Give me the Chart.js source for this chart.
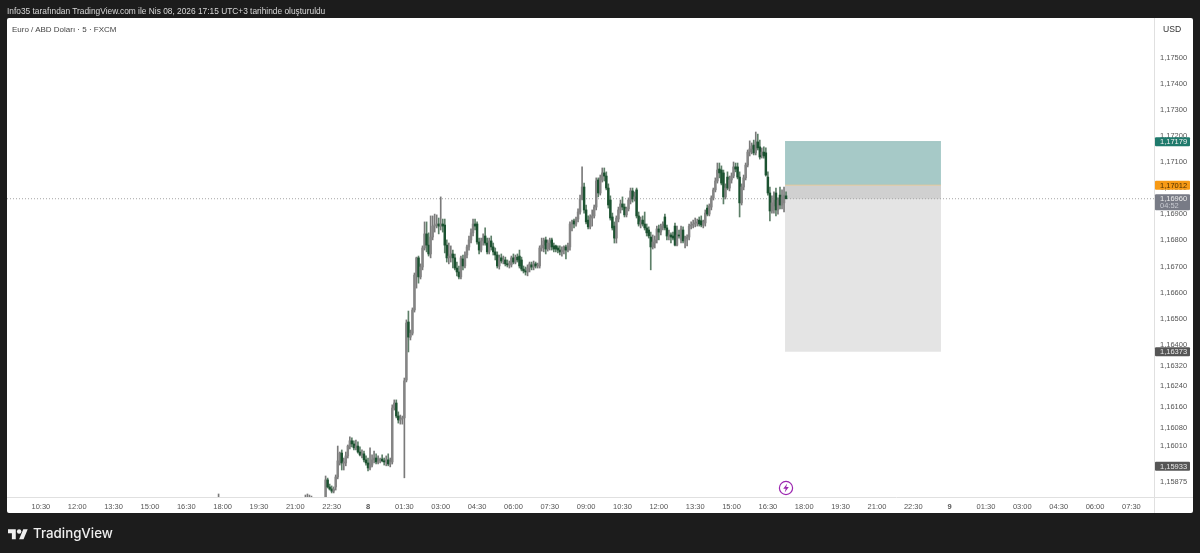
<!DOCTYPE html>
<html lang="tr"><head><meta charset="utf-8">
<style>
html,body{margin:0;padding:0;background:#1c1c1c;width:1200px;height:553px;overflow:hidden}
#panel{position:absolute;left:7px;top:18px;width:1186px;height:495px;background:#fff;border-radius:2px}
canvas{position:absolute;left:0;top:0}
.t{position:absolute;white-space:nowrap;font-family:"Liberation Sans",sans-serif}
#hdr{left:7px;top:6px;font-size:8.35px;line-height:11px;color:#d8d8d8}
#ttl{left:12px;top:24px;font-size:8px;line-height:11px;color:#444}
#usd{left:1163px;top:24px;font-size:8.6px;line-height:11px;color:#333}
#brand{left:33px;top:522px;font-family:"Inter","Lato",sans-serif;font-size:13.3px;line-height:22px;font-weight:500;color:#efefef}
#logo{position:absolute;left:8px;top:527px}
#bolt{position:absolute;left:778px;top:480px}
</style></head><body>
<div id="panel"></div>
<canvas id="c" width="1200" height="553"></canvas>
<div class="t" id="hdr">Info35 tarafından TradingView.com ile Nis 08, 2026 17:15 UTC+3 tarihinde oluşturuldu</div>
<div class="t" id="ttl">Euro / ABD Doları · 5 · FXCM</div>
<div class="t" id="usd">USD</div>
<svg id="logo" width="20" height="14" viewBox="0 0 36 25"><path fill="#efefef" d="M14 22H7V11H0V4h14v18zM28 22h-8l7.5-18h8L28 22z"/><circle fill="#efefef" cx="20" cy="8" r="4"/></svg>
<div class="t" id="brand">TradingView</div>
<svg id="bolt" width="16" height="16" viewBox="0 0 16 16"><circle cx="8" cy="8" r="6.6" fill="#fff" stroke="#9c27b0" stroke-width="1.2"/><path fill="#9c27b0" d="M9.2 3.6 5.2 8.7h2.5l-1 3.7 4.1-5.3H8.2z"/></svg>
<script src="https://cdn.jsdelivr.net/npm/chart.js@4/dist/chart.umd.min.js"></script>
<script>
const firstSlot = -21;
const open = [
1.15785,1.15881,1.15854,1.15846,1.15838,1.15854,1.15892,1.15946,1.15984,1.15946,
1.15946,1.15973,1.16008,1.16031,1.16019,1.16004,1.16011,1.15988,1.15977,1.15981,
1.15958,1.15946,1.15927,1.15938,1.15958,1.15965,1.15950,1.15954,1.15961,1.15954,
1.15950,1.15958,1.15942,1.15950,1.16157,1.16176,1.16126,1.16111,1.16115,1.16119,
1.16264,1.16487,1.16429,1.16444,1.16533,1.16667,1.16733,1.16660,1.16698,1.16771,
1.16825,1.16782,1.16748,1.16813,1.16855,1.16859,1.16863,1.16855,1.16863,1.16859,
1.16782,1.16733,1.16740,1.16748,1.16733,1.16694,1.16679,1.16660,1.16729,1.16702,
1.16744,1.16775,1.16802,1.16829,1.16863,1.16863,1.16794,1.16763,1.16798,1.16817,
1.16790,1.16756,1.16798,1.16775,1.16756,1.16744,1.16702,1.16733,1.16721,1.16725,
1.16710,1.16706,1.16706,1.16733,1.16717,1.16736,1.16740,1.16725,1.16690,1.16683,
1.16679,1.16694,1.16706,1.16698,1.16710,1.16702,1.16702,1.16771,1.16782,1.16802,
1.16767,1.16790,1.16802,1.16779,1.16779,1.16771,1.16763,1.16756,1.16763,1.16775,
1.16763,1.16775,1.16863,1.16875,1.16863,1.16882,1.16909,1.16959,1.17005,1.16917,
1.16878,1.16852,1.16886,1.16894,1.16928,1.17032,1.16982,1.17032,1.17059,1.17047,
1.17001,1.16955,1.16890,1.16855,1.16809,1.16882,1.16917,1.16940,1.16928,1.16898,
1.16921,1.16951,1.16990,1.16959,1.16994,1.16894,1.16863,1.16878,1.16863,1.16848,
1.16840,1.16813,1.16775,1.16790,1.16802,1.16844,1.16832,1.16855,1.16890,1.16848,
1.16817,1.16821,1.16817,1.16855,1.16782,1.16821,1.16802,1.16840,1.16798,1.16806,
1.16813,1.16855,1.16859,1.16863,1.16867,1.16878,1.16875,1.16859,1.16867,1.16924,
1.16901,1.16928,1.16963,1.16994,1.17028,1.17074,1.17070,1.17059,1.16967,1.17043,
1.17001,1.17032,1.17047,1.17082,1.17082,1.17043,1.16944,1.17005,1.17040,1.17089,
1.17139,1.17151,1.17166,1.17136,1.17178,1.17159,1.17128,1.17139,1.17136,1.17043,
1.16982,1.16913,1.16932,1.16982,1.16917,1.16974,1.16936,1.16944,1.16971
];
const high = [
1.15896,1.15888,1.15865,1.15858,1.15854,1.15900,1.16011,1.15988,1.15996,1.15965,
1.15988,1.16015,1.16046,1.16042,1.16031,1.16034,1.16027,1.16008,1.15996,1.15992,
1.15973,1.15965,1.16004,1.15977,1.15992,1.15981,1.15973,1.15965,1.15977,1.15965,
1.15973,1.15981,1.15965,1.16169,1.16188,1.16188,1.16142,1.16130,1.16126,1.16272,
1.16495,1.16529,1.16456,1.16541,1.16675,1.16736,1.16740,1.16710,1.16779,1.16871,
1.16871,1.16829,1.16894,1.16894,1.16901,1.16898,1.16886,1.16967,1.16882,1.16882,
1.16802,1.16790,1.16779,1.16763,1.16748,1.16717,1.16702,1.16740,1.16744,1.16756,
1.16782,1.16817,1.16844,1.16882,1.16882,1.16871,1.16809,1.16809,1.16825,1.16848,
1.16809,1.16809,1.16817,1.16790,1.16771,1.16756,1.16744,1.16748,1.16740,1.16736,
1.16725,1.16721,1.16740,1.16748,1.16744,1.16748,1.16763,1.16736,1.16702,1.16698,
1.16706,1.16717,1.16717,1.16721,1.16717,1.16713,1.16779,1.16809,1.16809,1.16813,
1.16802,1.16809,1.16809,1.16790,1.16782,1.16779,1.16779,1.16775,1.16779,1.16782,
1.16790,1.16871,1.16878,1.16882,1.16890,1.16921,1.16974,1.17082,1.17020,1.16936,
1.16894,1.16898,1.16917,1.16936,1.17040,1.17040,1.17051,1.17078,1.17078,1.17063,
1.17017,1.16971,1.16905,1.16871,1.16894,1.16928,1.16955,1.16967,1.16940,1.16928,
1.16963,1.17001,1.17001,1.16986,1.17001,1.16909,1.16890,1.16894,1.16909,1.16863,
1.16852,1.16832,1.16821,1.16817,1.16855,1.16859,1.16863,1.16871,1.16901,1.16859,
1.16840,1.16829,1.16832,1.16867,1.16855,1.16840,1.16855,1.16852,1.16817,1.16821,
1.16863,1.16871,1.16878,1.16886,1.16882,1.16890,1.16894,1.16878,1.16917,1.16936,
1.16940,1.16971,1.17001,1.17040,1.17097,1.17097,1.17086,1.17070,1.17017,1.17063,
1.17047,1.17059,1.17101,1.17097,1.17097,1.17063,1.17017,1.17051,1.17097,1.17147,
1.17182,1.17174,1.17185,1.17216,1.17208,1.17185,1.17155,1.17159,1.17155,1.17063,
1.17005,1.16971,1.16986,1.17001,1.16963,1.17005,1.16994,1.17005,1.16986
];
const low = [
1.15785,1.15850,1.15842,1.15831,1.15831,1.15842,1.15885,1.15938,1.15919,1.15919,
1.15935,1.15965,1.16000,1.16008,1.15996,1.15996,1.15984,1.15973,1.15965,1.15950,
1.15938,1.15915,1.15919,1.15931,1.15946,1.15942,1.15942,1.15946,1.15950,1.15938,
1.15935,1.15935,1.15931,1.15942,1.16149,1.16119,1.16099,1.16095,1.16095,1.15889,
1.16257,1.16372,1.16418,1.16437,1.16525,1.16617,1.16636,1.16652,1.16687,1.16763,
1.16756,1.16740,1.16733,1.16802,1.16832,1.16848,1.16825,1.16840,1.16832,1.16752,
1.16717,1.16710,1.16717,1.16694,1.16687,1.16664,1.16652,1.16652,1.16687,1.16694,
1.16733,1.16763,1.16790,1.16817,1.16840,1.16786,1.16748,1.16756,1.16782,1.16782,
1.16748,1.16748,1.16763,1.16744,1.16725,1.16694,1.16690,1.16713,1.16710,1.16702,
1.16698,1.16694,1.16698,1.16710,1.16710,1.16717,1.16694,1.16683,1.16675,1.16667,
1.16664,1.16679,1.16687,1.16687,1.16694,1.16694,1.16694,1.16759,1.16756,1.16748,
1.16759,1.16763,1.16763,1.16756,1.16756,1.16752,1.16744,1.16740,1.16748,1.16729,
1.16756,1.16763,1.16836,1.16848,1.16855,1.16871,1.16901,1.16955,1.16905,1.16863,
1.16844,1.16844,1.16855,1.16886,1.16917,1.16967,1.16974,1.17024,1.17028,1.16994,
1.16924,1.16878,1.16840,1.16790,1.16790,1.16871,1.16905,1.16917,1.16890,1.16890,
1.16913,1.16940,1.16947,1.16951,1.16886,1.16855,1.16848,1.16855,1.16840,1.16817,
1.16809,1.16687,1.16767,1.16771,1.16790,1.16802,1.16821,1.16840,1.16840,1.16802,
1.16802,1.16790,1.16802,1.16779,1.16779,1.16809,1.16790,1.16790,1.16771,1.16779,
1.16802,1.16844,1.16848,1.16852,1.16855,1.16855,1.16852,1.16848,1.16855,1.16894,
1.16894,1.16917,1.16955,1.16986,1.17020,1.17040,1.17013,1.16940,1.16959,1.16994,
1.16990,1.17020,1.17040,1.17063,1.17036,1.16890,1.16936,1.16994,1.17032,1.17082,
1.17124,1.17132,1.17128,1.17128,1.17147,1.17112,1.17116,1.17116,1.17047,1.16974,
1.16875,1.16905,1.16905,1.16894,1.16901,1.16921,1.16921,1.16909,1.16959
];
const close = [
1.15881,1.15854,1.15846,1.15838,1.15846,1.15892,1.15954,1.15984,1.15946,1.15950,
1.15973,1.16011,1.16031,1.16019,1.16004,1.16011,1.15988,1.15977,1.15981,1.15958,
1.15946,1.15927,1.15938,1.15958,1.15965,1.15950,1.15954,1.15961,1.15954,1.15950,
1.15958,1.15942,1.15950,1.16157,1.16176,1.16126,1.16111,1.16115,1.16119,1.16261,
1.16483,1.16429,1.16444,1.16533,1.16667,1.16733,1.16660,1.16698,1.16771,1.16825,
1.16782,1.16748,1.16813,1.16855,1.16859,1.16863,1.16855,1.16863,1.16855,1.16782,
1.16733,1.16740,1.16748,1.16733,1.16694,1.16679,1.16660,1.16733,1.16702,1.16744,
1.16775,1.16802,1.16829,1.16863,1.16855,1.16794,1.16763,1.16798,1.16809,1.16790,
1.16756,1.16798,1.16775,1.16756,1.16744,1.16702,1.16733,1.16721,1.16725,1.16710,
1.16706,1.16713,1.16733,1.16717,1.16736,1.16725,1.16702,1.16690,1.16683,1.16679,
1.16694,1.16710,1.16698,1.16710,1.16702,1.16706,1.16771,1.16782,1.16798,1.16767,
1.16790,1.16798,1.16775,1.16767,1.16767,1.16763,1.16756,1.16763,1.16775,1.16763,
1.16779,1.16863,1.16867,1.16863,1.16882,1.16909,1.16959,1.17005,1.16917,1.16871,
1.16852,1.16890,1.16894,1.16928,1.17028,1.16982,1.17040,1.17059,1.17047,1.17001,
1.16936,1.16886,1.16848,1.16809,1.16886,1.16917,1.16940,1.16928,1.16898,1.16921,
1.16955,1.16990,1.16959,1.16967,1.16894,1.16863,1.16871,1.16863,1.16848,1.16829,
1.16817,1.16775,1.16794,1.16802,1.16844,1.16832,1.16855,1.16863,1.16848,1.16817,
1.16821,1.16813,1.16809,1.16782,1.16821,1.16817,1.16844,1.16798,1.16806,1.16813,
1.16855,1.16859,1.16863,1.16867,1.16871,1.16863,1.16859,1.16871,1.16905,1.16901,
1.16932,1.16963,1.16994,1.17028,1.17070,1.17059,1.17020,1.16967,1.17001,1.17001,
1.17032,1.17047,1.17082,1.17074,1.17043,1.16944,1.17005,1.17040,1.17089,1.17139,
1.17151,1.17162,1.17136,1.17178,1.17155,1.17120,1.17139,1.17124,1.17051,1.16982,
1.16913,1.16944,1.16955,1.16917,1.16955,1.16936,1.16967,1.16974,1.16960
];
const earlySlots = [-74,-31,-30,-29,-28];
const earlyHigh = [1.15827,1.15823,1.15827,1.15823,1.15819];
const earlyLow = [1.15800,1.15800,1.15800,1.15800,1.15800];

const xTickSlots = [-162,-144,-126,-108,-90,-72,-54,-36,-18,0,18,36,54,72,90,108,126,144,162,180,198,216,234,252,270,288,306,324,342,360,378];
const xTickLabels = ["10:30","12:00","13:30","15:00","16:30","18:00","19:30","21:00","22:30","8","01:30","03:00","04:30","06:00","07:30","09:00","10:30","12:00","13:30","15:00","16:30","18:00","19:30","21:00","22:30","9","01:30","03:00","04:30","06:00","07:30"];
const yTicks = [1.175,1.174,1.173,1.172,1.171,1.17,1.169,1.168,1.167,1.166,1.165,1.164,1.1632,1.1624,1.1616,1.1608,1.1601,1.15875];

const lastPrice = 1.1696, countdown = "04:52";
const targetPrice = 1.17179, entryPrice = 1.17012, stopPrice = 1.16373, extraPrice = 1.15933;
const toolStart = 206.5, toolEnd = 283.7;
const slotMin = -178.77, slotMax = 389.2, priceMin = 1.158154, priceMax = 1.176535;

const UP = '#858585', DOWN = '#1b5230', WICK = '#7a7a7a', WICK_DOWN = '#5d7f68';
const slots = close.map((_, i) => firstSlot + i);
const isUp = i => close[i] >= open[i];
const fnt = '"Liberation Sans",sans-serif';
const fmt = v => v.toFixed(5).replace('.', ',');

const zone = (order, from, to, color, edge) => ({
  type: 'line', order,
  data: [{x: toolStart, y: from}, {x: toolEnd, y: from}],
  fill: {target: {value: to}}, backgroundColor: color,
  borderColor: edge, borderWidth: edge === 'transparent' ? 0 : 1, pointRadius: 0, tension: 0
});

const badges = {
  id: 'badges',
  afterDraw(chart) {
    const {ctx, scales: {y}, chartArea: a} = chart;
    ctx.save();
    ctx.strokeStyle = '#e0e0e0'; ctx.lineWidth = 1;
    ctx.beginPath();
    ctx.moveTo(a.right + .5, a.top); ctx.lineTo(a.right + .5, 513);
    ctx.moveTo(a.left, a.bottom + .5); ctx.lineTo(1193, a.bottom + .5);
    ctx.stroke();
    ctx.textAlign = 'left'; ctx.textBaseline = 'middle';
    ctx.font = '7.5px ' + fnt;
    const L = a.right + 1, W = 35;
    const tag = (value, bg, fg, second) => {
      const py = y.getPixelForValue(value);
      const top = py - 4.5, h = second ? 16 : 9;
      ctx.fillStyle = bg;
      ctx.beginPath(); ctx.roundRect(L, top, W, h, 1); ctx.fill();
      ctx.fillStyle = fg;
      ctx.fillText(fmt(value), a.right + 6, py + .3);
      if (second) { ctx.fillStyle = '#c9cbd2'; ctx.fillText(second, a.right + 6, py + 7.6); }
    };
    tag(targetPrice, '#1f7a6c', '#f2f2f2');
    tag(entryPrice, '#f79a15', '#4d3000');
    tag(lastPrice, '#787b86', '#ececec', countdown);
    tag(stopPrice, '#555555', '#e8e8e8');
    tag(extraPrice, '#555555', '#e8e8e8');
    ctx.restore();
  }
};

new Chart(document.getElementById('c'), {
  type: 'bar',
  plugins: [badges],
  data: {
    datasets: [
      zone(11, targetPrice, entryPrice, '#a6c9c7', '#9cc3c0'),
      zone(11, entryPrice, stopPrice, '#e4e4e4', 'transparent'),
      zone(10, entryPrice, lastPrice, '#d0d0d0', 'transparent'),
      {type: 'line', order: 9, data: [{x: toolStart, y: entryPrice}, {x: toolEnd, y: entryPrice}],
       borderColor: '#e3c79a', borderWidth: 1, pointRadius: 0, fill: false},
      {type: 'line', order: 8, data: [{x: slotMin, y: lastPrice}, {x: slotMax, y: lastPrice}],
       borderColor: '#a6a6a6', borderWidth: 1, borderDash: [1, 2], pointRadius: 0, fill: false},
      {order: 3, grouped: false, barThickness: 1, minBarLength: 1,
       data: earlySlots.map((s, i) => ({x: s, y: [earlyLow[i], earlyHigh[i]]})),
       backgroundColor: WICK},
      {order: 2, grouped: false, barThickness: 1,
       data: slots.map((s, i) => ({x: s, y: [low[i], high[i]]})),
       backgroundColor: slots.map((_, i) => isUp(i) ? WICK : WICK_DOWN)},
      {order: 1, grouped: false, barThickness: 1.8, minBarLength: 1,
       data: slots.map((s, i) => ({x: s, y: [open[i], close[i]]})),
       backgroundColor: slots.map((_, i) => isUp(i) ? UP : DOWN)}
    ]
  },
  options: {
    responsive: false, animation: false, devicePixelRatio: 1,
    layout: {padding: {left: 7, right: 7, top: 18, bottom: 40}},
    plugins: {legend: {display: false}, tooltip: {enabled: false}},
    scales: {
      x: {
        type: 'linear', offset: false, min: slotMin, max: slotMax,
        grid: {display: false, drawTicks: false}, border: {display: false},
        afterBuildTicks: s => { s.ticks = xTickSlots.map(v => ({value: v})); },
        afterFit: s => { s.height = 16; },
        ticks: {
          autoSkip: false, maxRotation: 0, padding: 5, color: '#555',
          callback: (v, i) => xTickLabels[i],
          font: c => ({family: fnt, size: 7.5, weight: (c.index === 9 || c.index === 25) ? 'bold' : 'normal'})
        }
      },
      y: {
        type: 'linear', position: 'right', min: priceMin, max: priceMax,
        grid: {display: false, drawTicks: false}, border: {display: false},
        afterBuildTicks: s => { s.ticks = yTicks.map(v => ({value: v})); },
        afterFit: s => { s.width = 39; },
        ticks: {
          autoSkip: false, padding: 6, color: '#555',
          callback: v => fmt(v),
          font: {family: fnt, size: 7.5}
        }
      }
    }
  }
});
</script>
</body></html>
